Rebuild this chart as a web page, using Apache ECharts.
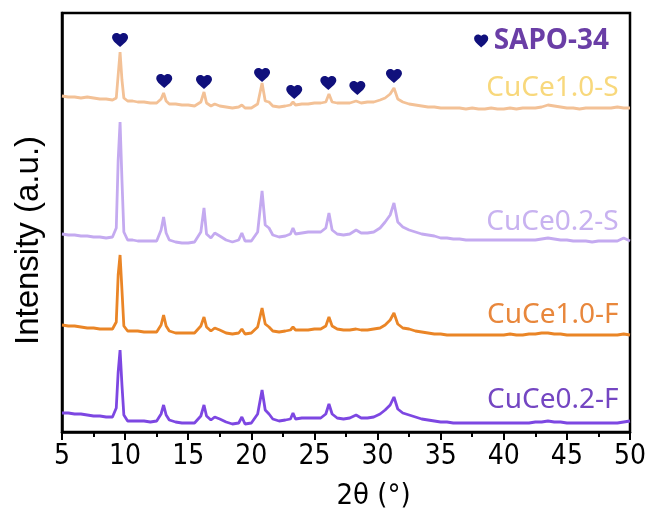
<!DOCTYPE html>
<html><head><meta charset="utf-8">
<script src="https://cdn.jsdelivr.net/npm/echarts@6/dist/echarts.min.js"></script>
<style>html,body{margin:0;padding:0;background:#fff}#c{width:652px;height:520px}</style>
</head><body><div id="c"></div>
<script>
var twoTheta = [5,5.5,6,6.5,7,7.5,8,8.5,9.0,9.3,9.45,9.6,9.75,9.9,10.2,10.6,11,11.5,12,12.5,12.85,13.05,13.25,13.5,14,14.5,15,15.5,16.0,16.25,16.45,16.8,17.1,17.5,18,18.5,19.0,19.25,19.5,20.0,20.5,20.85,21.1,21.4,21.7,22.2,22.7,23.1,23.3,23.5,24,24.5,25,25.5,25.9,26.15,26.4,26.8,27.3,27.8,28.3,28.7,29.2,29.7,30.2,30.6,31.0,31.3,31.6,32,32.5,33,33.5,34,34.5,35,35.5,36,36.5,37,37.5,38,38.5,39,39.5,40,40.5,41,41.5,42,42.5,43,43.5,44,44.5,45,45.5,46,46.5,47,47.5,48,48.5,49,49.5,50];
var cuce10S = [336,335,335,334,335,334,333,333,332,334,357,380,352,334,331,331,330,330,329,329,333,339,331,328,328,327,327,326,330,340,329,326,328,326,325,324,325,327,324,324,328,349,331,330,326,325,326,327,330,327,328,328,329,329,330,338,330,329,329,329,331,329,330,330,332,334,338,344,333,330,328,327,326,325,325,324,324,324,324,323,324,323,323,324,323,323,324,323,324,324,324,325,327,326,325,324,324,323,324,324,324,324,324,325,324,324];
var cuce02S = [198,197,197,196,196,195,195,194,195,204,272,310,252,200,192,192,191,191,191,191,202,215,199,192,190,189,189,190,200,224,198,194,199,196,192,190,192,199,191,191,200,241,207,204,197,195,196,198,204,198,199,200,200,200,204,219,202,198,197,198,202,199,199,200,204,210,217,229,210,205,202,200,198,197,196,194,194,193,193,192,192,192,192,192,192,192,192,192,192,192,192,193,194,193,192,192,191,191,191,190,191,191,191,191,194,191];
var cuce10F = [107,106,106,105,104,104,103,103,103,110,157,177,142,106,101,101,101,100,100,100,107,117,106,101,99,99,99,99,106,115,105,101,104,102,99,98,99,103,98,99,105,124,108,105,101,100,101,102,105,102,102,102,103,103,106,115,106,103,102,102,103,102,102,103,104,107,112,119,108,104,103,101,100,99,98,98,97,97,97,97,97,97,97,97,97,97,98,97,97,98,98,99,99,98,98,97,97,97,97,97,97,97,97,97,98,97];
var cuce02F = [19,19,18,18,17,16,16,15,15,24,60,82,47,17,11,11,11,11,10,11,18,27,17,12,10,9,9,9,16,27,16,12,15,13,10,8,9,15,8,9,18,42,22,18,13,11,12,13,19,13,14,14,14,14,18,28,18,14,13,14,17,14,14,15,18,22,27,35,23,19,17,15,13,12,11,10,10,9,9,9,9,9,9,9,9,9,9,9,9,9,10,10,11,10,10,9,9,9,9,9,9,9,9,9,10,11];
var sapoX = [9.6,13.1,16.25,20.85,23.4,26.1,28.4,31.3];
var sapoY = [392,351,350,357,340,349,344,356];
var seriesNames = ['CuCe1.0-S','CuCe0.2-S','CuCe1.0-F','CuCe0.2-F'];
var lineColors = ['#f3c196','#c4aaf0','#ea8526','#7d47e2'];
var labelColors = ['#f8d87c','#c8b2f0','#e8873c','#7446c2'];
var labelY = [344,210,117,32];
var xTicks = [5,10,15,20,25,30,35,40,45,50];

var all = [cuce10S, cuce02S, cuce10F, cuce02F];
function zip(xs, ys){ return xs.map(function(x,i){return [x, ys[i]];}); }
var heart = 'path://M12 21.35l-1.45-1.32C5.4 15.36 2 12.28 2 8.5 2 5.42 4.42 3 7.5 3c1.74 0 3.41.81 4.5 2.09C13.09 3.81 14.76 3 16.5 3 19.58 3 22 5.42 22 8.5c0 3.78-3.4 6.86-8.55 11.54L12 21.35z';
var series = all.map(function(ys, i){
  return {
    name: seriesNames[i], type: 'line', data: zip(twoTheta, ys), showSymbol: false,
    lineStyle: {color: lineColors[i], width: 2.8}, itemStyle:{color: lineColors[i]}, animation: false, z: 2,
    markPoint: {symbol: 'circle', symbolSize: 0, silent: true, animation:false,
      data: [{coord: [49.1, labelY[i]], name: seriesNames[i]}],
      label: {show: true, position: 'left', distance: 0, formatter: seriesNames[i],
        color: labelColors[i], fontSize: 28, fontFamily: 'Noto Sans, Liberation Sans, sans-serif'}}
  };
});
series.push({
  name: 'SAPO-34', type: 'scatter', data: zip(sapoX, sapoY), symbol: heart,
  symbolSize: [16, 14], itemStyle: {color: '#10107c', opacity: 1}, z: 5, animation: false
});
var chart = echarts.init(document.getElementById('c'));
chart.setOption({
  backgroundColor: '#fff',
  animation: false,
  grid: {left: 62, right: 22, top: 13, bottom: 88, show: true, borderColor: '#000', borderWidth: 2.5},
  legend: {data: [{name: 'SAPO-34', icon: heart, itemStyle: {color: '#10107c', opacity: 1}}], right: 38, top: 22, itemWidth: 15, itemHeight: 13, itemGap: 6,
    textStyle: {color: '#6a3ea6', fontSize: 28, fontWeight: 'bold', fontFamily: 'Noto Sans, Liberation Sans, sans-serif'}},
  xAxis: {type: 'value', min: 5, max: 50, interval: 5,
    name: '2θ (°)', nameLocation: 'middle', nameGap: 50,
    nameTextStyle: {fontSize: 29, color: '#000', fontFamily: 'DejaVu Sans Condensed, sans-serif', padding: [0,0,0,55]},
    axisLine: {lineStyle: {color: '#000', width: 2.5}},
    axisTick: {length: 8, lineStyle: {color: '#000', width: 2}},
    minorTick: {show: true, splitNumber: 2, length: 5, lineStyle: {color: '#000', width: 2}},
    splitLine: {show: false},
    axisLabel: {fontSize: 28, color: '#000', margin: 11, fontFamily: 'DejaVu Sans Condensed, sans-serif',
      formatter: function(v){ return xTicks.indexOf(v) >= 0 ? String(v) : ''; }}
  },
  yAxis: {type: 'value', min: 0, max: 419,
    name: 'Intensity (a.u.)', nameLocation: 'middle', nameGap: 17,
    nameTextStyle: {fontSize: 33, color: '#000', fontFamily: 'Liberation Sans, Arial, sans-serif', padding: [0,36,0,0]},
    axisLine: {show: true, lineStyle: {color: '#000', width: 2.5}},
    axisTick: {show: false}, axisLabel: {show: false}, splitLine: {show: false}
  },
  series: series
});
</script></body></html>
